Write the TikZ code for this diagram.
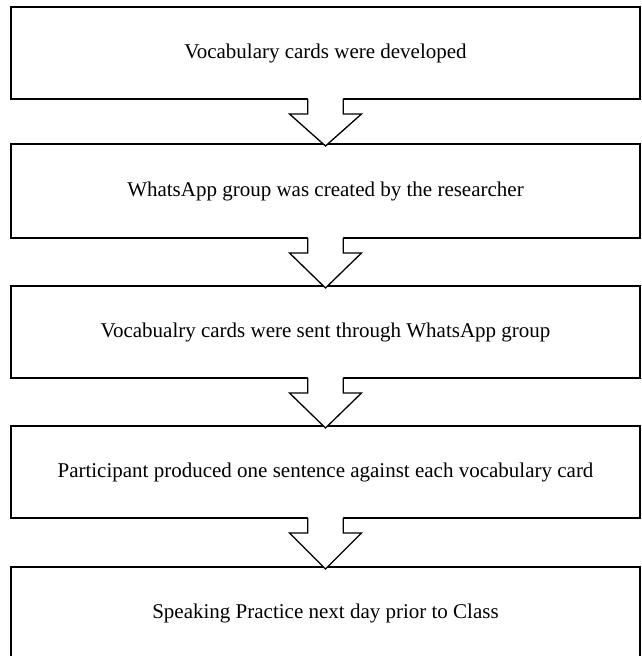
\documentclass[tikz,border=0pt]{standalone}
\usepackage{fontspec}
\setmainfont{Liberation Serif}
\usetikzlibrary{calc}
\newcommand{\flowarrow}[2]{%
  \fill[white] ($(#1.south)+(-17.7,-1.5)$) -- ($(#1.south)+(-17.7,15)$) -- ($(#1.south)+(-36,15)$) -- ($(#2.north)+(0,2)$) -- ($(#1.south)+(36,15)$) -- ($(#1.south)+(17.7,15)$) -- ($(#1.south)+(17.7,-1.5)$) -- cycle;
  \draw[blockarrow] ($(#1.south)+(-17.7,0)$) -- ($(#1.south)+(-17.7,15)$) -- ($(#1.south)+(-36,15)$) -- ($(#2.north)+(0,2)$) -- ($(#1.south)+(36,15)$) -- ($(#1.south)+(17.7,15)$) -- ($(#1.south)+(17.7,0)$);
}
\begin{document}
\begin{tikzpicture}[x=1pt,y=-1pt,
  stepbox/.style={draw=black, line width=1.6pt, minimum width=629pt, minimum height=92pt, inner sep=0pt, outer sep=0pt, font=\fontsize{21}{25}\selectfont},
  blockarrow/.style={draw=black, line width=1.3pt, line join=miter}]
\useasboundingbox (0,0) rectangle (641,656);
\clip (0,0) rectangle (641,656);
\node[stepbox] (b1) at (325.5,53) {Vocabulary cards were developed};
\node[stepbox, minimum height=94pt] (b2) at (325.5,191) {WhatsApp group was created by the researcher};
\node[stepbox] (b3) at (325.5,332) {Vocabualry cards were sent through WhatsApp group};
\node[stepbox] (b4) at (325.5,472) {Participant produced one sentence against each vocabulary card};
\node[stepbox] (b5) at (325.5,613) {Speaking Practice next day prior to Class};
\flowarrow{b1}{b2}
\flowarrow{b2}{b3}
\flowarrow{b3}{b4}
\flowarrow{b4}{b5}
\end{tikzpicture}
\end{document}
